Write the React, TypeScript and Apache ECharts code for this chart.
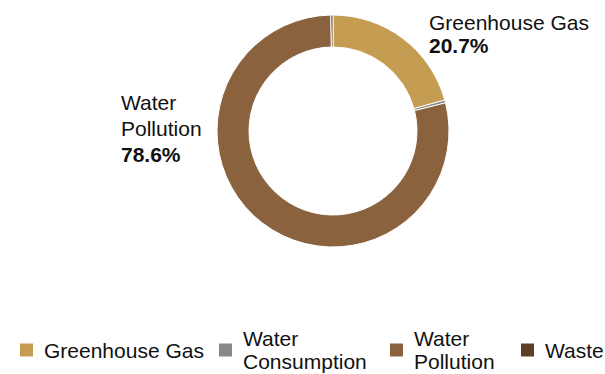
import React, { useEffect, useRef } from "react";
import * as echarts from "echarts";

const categories = ["Greenhouse Gas", "Water Consumption", "Water Pollution", "Waste"];
const displayNames = ["Greenhouse Gas", "Water\nConsumption", "Water\nPollution", "Waste"];
const shares = [20.7, 0.4, 78.6, 0.3];
const showLabel = [true, false, true, false];

const colors = ["#C49C52", "#888888", "#8A623D", "#5C4023"];
const FONT = "Liberation Sans, Arial, sans-serif";

const labelPositions: Record<number, { x: number; y: number; style: string }> = {
  0: { x: 429, y: 10.5, style: "a" },
  2: { x: 121, y: 89.5, style: "b" },
};
const legendPositions = [
  { left: 18, top: 338.5 },
  { left: 217, top: 327 },
  { left: 388, top: 327 },
  { left: 519, top: 338.5 },
];

export default function App() {
  const ref = useRef<HTMLDivElement>(null);
  useEffect(() => {
    document.body.style.margin = "0";
    if (!ref.current) return;
    const chart = echarts.init(ref.current, undefined, { renderer: "svg" });
    const option: any = {
      animation: false,
      color: colors,
      textStyle: { fontFamily: FONT },
      legend: categories.map((c, i) => ({
        data: [c],
        left: legendPositions[i].left,
        top: legendPositions[i].top,
        padding: 0,
        icon: "rect",
        itemWidth: 15,
        itemHeight: 15,
        formatter: (n: string) => displayNames[categories.indexOf(n)],
        textStyle: {
          fontSize: 21,
          lineHeight: 23,
          color: "#111",
          fontFamily: FONT,
          padding: [0, 0, 0, 5],
        },
      })),
      series: [
        {
          type: "pie",
          center: [333, 131],
          radius: [84, 116],
          startAngle: 90,
          clockwise: true,
          avoidLabelOverlap: false,
          itemStyle: { borderColor: "#fff", borderWidth: 1 },
          label: {
            position: "outside",
            formatter: (p: any) => {
              const s = labelPositions[p.dataIndex]?.style || "a";
              return `{n${s}|${displayNames[p.dataIndex]}}\n{p${s}|${p.percent.toFixed(1)}%}`;
            },
            rich: {
              na: { fontSize: 21, lineHeight: 23, color: "#111", fontFamily: FONT },
              pa: { fontSize: 21, lineHeight: 23, color: "#111", fontWeight: "bold", fontFamily: FONT },
              nb: { fontSize: 21, lineHeight: 26, color: "#111", fontFamily: FONT },
              pb: { fontSize: 21, lineHeight: 26, color: "#111", fontWeight: "bold", fontFamily: FONT },
            },
          },
          labelLine: { show: false },
          labelLayout: (params: any) => {
            const pos = labelPositions[params.dataIndex];
            return pos ? { x: pos.x, y: pos.y, align: "left", verticalAlign: "top" } : {};
          },
          emphasis: { disabled: true },
          data: categories.map((c, i) => ({
            name: c,
            value: shares[i],
            itemStyle: { color: colors[i] },
            label: { show: showLabel[i] },
          })),
        },
      ],
    };
    chart.setOption(option);
    return () => chart.dispose();
  }, []);
  return <div ref={ref} style={{ width: 605, height: 374 }} />;
}
